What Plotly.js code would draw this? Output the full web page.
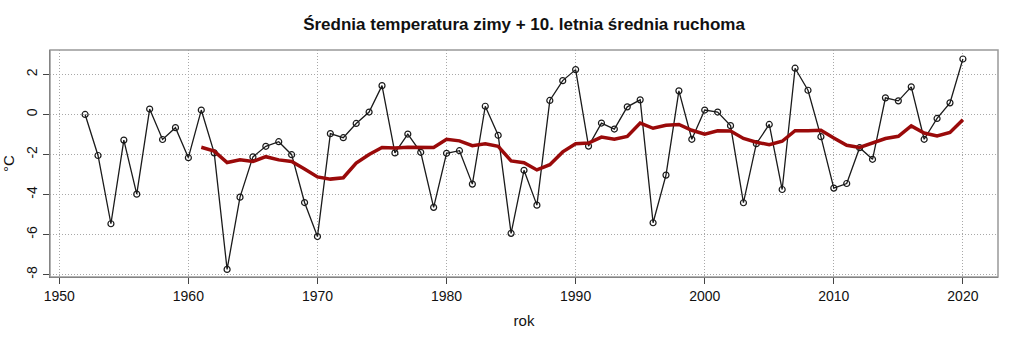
<!DOCTYPE html>
<html>
<head>
<meta charset="utf-8">
<script src="https://cdn.plot.ly/plotly-3.0.1.min.js"></script>
<style>html,body{margin:0;padding:0;background:#fff;}#chart{width:1024px;height:341px;}</style>
</head>
<body>
<div id="chart"></div>
<script>
const years = [1952,1953,1954,1955,1956,1957,1958,1959,1960,1961,1962,1963,1964,1965,1966,1967,1968,1969,1970,1971,1972,1973,1974,1975,1976,1977,1978,1979,1980,1981,1982,1983,1984,1985,1986,1987,1988,1989,1990,1991,1992,1993,1994,1995,1996,1997,1998,1999,2000,2001,2002,2003,2004,2005,2006,2007,2008,2009,2010,2011,2012,2013,2014,2015,2016,2017,2018,2019,2020];
const winterTemp = [0.00,-2.05,-5.46,-1.28,-3.98,0.27,-1.25,-0.66,-2.16,0.22,-1.92,-7.74,-4.13,-2.12,-1.59,-1.36,-2.01,-4.40,-6.10,-0.96,-1.16,-0.45,0.12,1.44,-1.92,-0.98,-1.89,-4.64,-1.94,-1.81,-3.48,0.41,-1.04,-5.94,-2.79,-4.53,0.70,1.69,2.24,-1.58,-0.43,-0.73,0.38,0.73,-5.41,-3.03,1.18,-1.24,0.22,0.12,-0.56,-4.41,-1.46,-0.50,-3.75,2.31,1.21,-1.11,-3.68,-3.45,-1.66,-2.24,0.83,0.68,1.38,-1.24,-0.20,0.58,2.77];
const maYears = [1961,1962,1963,1964,1965,1966,1967,1968,1969,1970,1971,1972,1973,1974,1975,1976,1977,1978,1979,1980,1981,1982,1983,1984,1985,1986,1987,1988,1989,1990,1991,1992,1993,1994,1995,1996,1997,1998,1999,2000,2001,2002,2003,2004,2005,2006,2007,2008,2009,2010,2011,2012,2013,2014,2015,2016,2017,2018,2019,2020];
const movingAvg = [-1.64,-1.83,-2.40,-2.26,-2.35,-2.11,-2.27,-2.35,-2.72,-3.12,-3.23,-3.16,-2.43,-2.00,-1.65,-1.68,-1.64,-1.63,-1.65,-1.24,-1.32,-1.56,-1.47,-1.59,-2.32,-2.41,-2.77,-2.51,-1.87,-1.46,-1.43,-1.13,-1.24,-1.10,-0.43,-0.69,-0.54,-0.50,-0.79,-0.99,-0.82,-0.83,-1.20,-1.39,-1.51,-1.34,-0.81,-0.81,-0.79,-1.18,-1.54,-1.65,-1.43,-1.20,-1.09,-0.57,-0.93,-1.07,-0.90,-0.26];
const xTicks = [1950,1960,1970,1980,1990,2000,2010,2020];
const yTicks = [-8,-6,-4,-2,0,2];
const titleText = "Średnia temperatura zimy + 10. letnia średnia ruchoma";
const xTitle = "rok";
const yTitle = "°C";

const font = "Liberation Sans, Arial, sans-serif";

const traces = [
  {
    x: years, y: winterTemp, type: "scatter", mode: "lines+markers",
    line: {color: "#1a1a1a", width: 1.3},
    marker: {symbol: "circle-open", size: 6, color: "#1a1a1a", line: {width: 1.2, color: "#1a1a1a"}},
    hoverinfo: "x+y", showlegend: false
  },
  {
    x: maYears, y: movingAvg, type: "scatter", mode: "lines",
    line: {color: "#9a0a0a", width: 3.5},
    hoverinfo: "x+y", showlegend: false
  }
];

const layout = {
  width: 1024, height: 341,
  margin: {l: 50, r: 26, t: 50, b: 64},
  paper_bgcolor: "#fff", plot_bgcolor: "#fff",
  font: {family: font, size: 14, color: "#111"},
  title: {text: "<b>" + titleText + "</b>", x: 0.5, xref: "paper", y: 0.93, yanchor: "middle", font: {family: font, size: 17, color: "#111"}},
  xaxis: {
    range: [1949.28, 2022.72], tickvals: xTicks, ticktext: xTicks.map(String),
    showgrid: true, gridcolor: "#a8a8a8", griddash: "1px,2px", gridwidth: 1,
    zeroline: false, showline: true, linecolor: "#444", linewidth: 1.2,
    ticks: "outside", ticklen: 6, tickcolor: "#444", tickwidth: 1,
    tickfont: {family: font, size: 14, color: "#111"},
    title: {text: xTitle, font: {family: font, size: 15, color: "#111"}, standoff: 12}
  },
  yaxis: {
    range: [-8.12, 3.22], tickvals: yTicks, ticktext: yTicks.map(String),
    tickangle: -90,
    showgrid: true, gridcolor: "#a8a8a8", griddash: "1px,2px", gridwidth: 1,
    zeroline: false, showline: true, linecolor: "#444", linewidth: 1.2,
    ticks: "outside", ticklen: 6, tickcolor: "#444", tickwidth: 1,
    tickfont: {family: font, size: 14, color: "#111"},
    title: {text: yTitle, font: {family: font, size: 15, color: "#111"}, standoff: 6}
  },
  shapes: [{
    type: "rect", xref: "paper", yref: "paper", x0: 0, x1: 1, y0: 0, y1: 1,
    line: {color: "#999", width: 1.5}, fillcolor: "rgba(0,0,0,0)", layer: "above"
  }]
};

Plotly.newPlot("chart", traces, layout, {displayModeBar: false, staticPlot: true});
</script>
</body>
</html>
